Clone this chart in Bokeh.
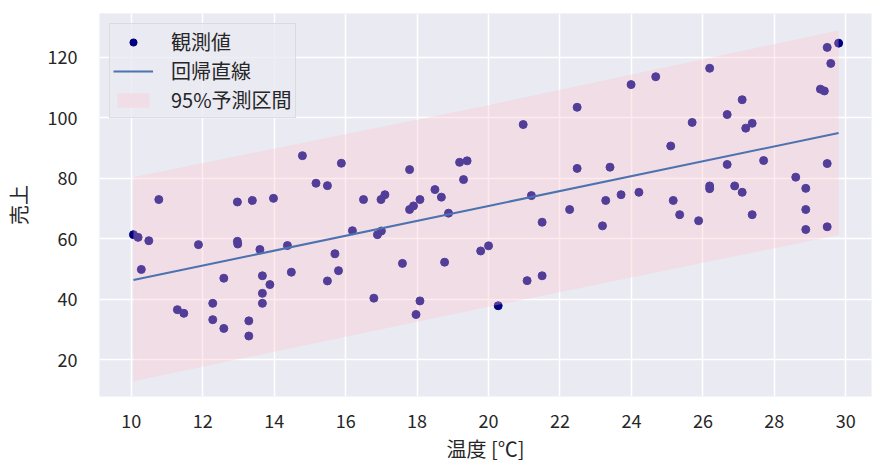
from bokeh.plotting import figure
from bokeh.models import Range1d, FixedTicker, Legend, LegendItem
from bokeh.embed import file_html
from bokeh.resources import INLINE

# observed values (temperature, sales)
temp = [10.06, 10.19, 10.28, 10.49, 10.77, 11.29, 11.47, 11.88, 12.28, 12.28,
        12.59, 12.59, 12.97, 12.97, 12.98, 13.29, 13.29, 13.39, 13.60, 13.67,
        13.67, 13.67, 13.88, 13.98, 14.37, 14.48, 14.79, 15.17, 15.49, 15.49,
        15.70, 15.80, 15.88, 16.19, 16.50, 16.79, 16.89, 16.99, 17.00, 17.10,
        17.59, 17.79, 17.79, 17.90, 17.97, 18.08, 18.08, 18.50, 18.68, 18.77,
        18.88, 19.19, 19.30, 19.40, 19.78, 20.00, 20.27, 20.97, 21.08, 21.20,
        21.50, 21.50, 22.27, 22.48, 22.48, 23.19, 23.28, 23.40, 23.71, 23.99,
        24.21, 24.68, 25.10, 25.17, 25.35, 25.70, 25.88, 26.19, 26.19, 26.19,
        26.68, 26.68, 26.89, 27.10, 27.10, 27.20, 27.38, 27.38, 27.70, 28.60,
        28.88, 28.88, 28.88, 29.29, 29.40, 29.48, 29.48, 29.48, 29.58, 29.80]
sales = [61.4, 60.5, 49.9, 59.4, 73.0, 36.6, 35.4, 58.1, 38.7, 33.3,
         47.0, 30.4, 72.2, 59.2, 58.3, 32.9, 27.9, 72.7, 56.5, 47.8,
         42.0, 38.7, 44.9, 73.4, 57.8, 49.0, 87.5, 78.4, 77.6, 46.1,
         55.1, 49.5, 85.0, 62.7, 73.0, 40.4, 61.4, 73.0, 62.6, 74.6,
         51.9, 82.9, 69.7, 70.9, 35.0, 73.0, 39.5, 76.3, 73.8, 52.3,
         68.5, 85.3, 79.6, 85.8, 56.0, 57.7, 37.9, 97.8, 46.2, 74.3,
         65.5, 47.8, 69.7, 103.5, 83.3, 64.3, 72.7, 83.7, 74.6, 111.0,
         75.4, 113.6, 90.7, 72.7, 68.0, 98.5, 66.0, 116.4, 77.5, 76.6,
         101.1, 84.6, 77.5, 106.0, 75.4, 96.6, 98.2, 68.0, 85.9, 80.4,
         76.7, 69.7, 63.1, 109.5, 108.9, 123.3, 84.9, 64.0, 118.0, 124.7]

# regression line and 95% prediction interval
fit_x = [10.06, 20.0, 29.80]
fit_y = [46.4, 70.9, 95.0]
pi_lower = [12.9, 37.6, 61.3]
pi_upper = [80.4, 104.2, 128.9]

x_ticks = [10, 12, 14, 16, 18, 20, 22, 24, 26, 28, 30]
y_ticks = [20, 40, 60, 80, 100, 120]

FONT = "Noto Sans CJK JP"
TXT = "#262626"

p = figure(width=880, height=466, output_backend="svg", toolbar_location=None,
           x_range=Range1d(9.11, 30.72), y_range=Range1d(7.9, 134.5),
           min_border_left=99, min_border_right=9, min_border_top=13, min_border_bottom=70)
p.background_fill_color = "#EAEAF2"
p.border_fill_color = "white"
p.outline_line_color = None

for ax in (p.xaxis, p.yaxis):
    ax.axis_line_color = None
    ax.major_tick_line_color = None
    ax.minor_tick_line_color = None
    ax.major_tick_out = 0
    ax.major_tick_in = 0
    ax.major_label_text_font = FONT
    ax.major_label_text_font_size = "18px"
    ax.major_label_text_color = TXT
    ax.axis_label_text_font = FONT
    ax.axis_label_text_font_size = "20px"
    ax.axis_label_text_font_style = "normal"
    ax.axis_label_text_color = TXT

p.xaxis.ticker = FixedTicker(ticks=x_ticks)
p.yaxis.ticker = FixedTicker(ticks=y_ticks)
p.xaxis.axis_label = "温度 [℃]"
p.yaxis.axis_label = "売上"
p.xaxis.major_label_standoff = 17
p.yaxis.major_label_standoff = 22
p.xaxis.axis_label_standoff = 3
p.yaxis.axis_label_standoff = 12

p.grid.grid_line_color = "white"
p.grid.grid_line_width = 1.5
p.xgrid.ticker = FixedTicker(ticks=x_ticks)
p.ygrid.ticker = FixedTicker(ticks=y_ticks)

r_pts = p.scatter(temp, sales, size=8, fill_color="navy", line_color="navy")
r_band = p.varea(x=fit_x, y1=pi_lower, y2=pi_upper, fill_color="pink", fill_alpha=0.32)
r_line = p.line(fit_x, fit_y, line_color="#4C72B0", line_width=2)

legend = Legend(items=[LegendItem(label="観測値", renderers=[r_pts]),
                       LegendItem(label="回帰直線", renderers=[r_line]),
                       LegendItem(label="95%予測区間", renderers=[r_band])],
                location="top_left")
legend.label_text_font = FONT
legend.label_text_font_size = "20px"
legend.label_text_color = TXT
legend.glyph_width = 40
legend.glyph_height = 18
legend.label_standoff = 18
legend.spacing = 0
legend.padding = 3
legend.margin = 10
legend.background_fill_color = "#EAEAF2"
legend.background_fill_alpha = 0.8
legend.border_line_color = "#CCCCCC"
legend.border_line_width = 1
p.add_layout(legend)

open("out.html", "w").write(file_html(p, INLINE))
